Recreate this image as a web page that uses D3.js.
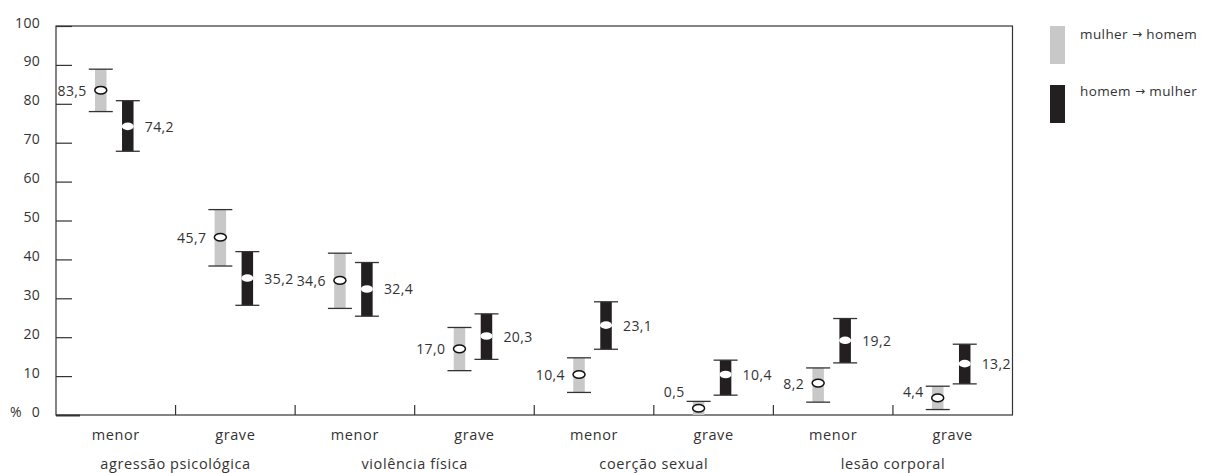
<!DOCTYPE html>
<html><head><meta charset="utf-8">
<script src="https://cdn.jsdelivr.net/npm/d3@7"></script>
<style>
html,body{margin:0;padding:0;background:#fff;}
svg{display:block;font-family:"Open Sans", "Noto Sans", sans-serif;}
</style></head>
<body>
<svg id="chart" width="1213" height="473"></svg>
<script>
const groups = ["agressão psicológica","violência física","coerção sexual","lesão corporal"];
const severities = ["menor","grave"];
const categories = ["ap-menor","ap-grave","vf-menor","vf-grave","cs-menor","cs-grave","lc-menor","lc-grave"];
const womanValues = [83.5,45.7,34.6,17.0,10.4,0.5,8.2,4.4];
const womanLow    = [78.0,38.3,27.4,11.4,5.8,0.0,3.3,1.4];
const womanHigh   = [88.9,52.8,41.6,22.5,14.7,3.5,12.1,7.4];
const manValues   = [74.2,35.2,32.4,20.3,23.1,10.4,19.2,13.2];
const manLow      = [67.8,28.2,25.4,14.3,16.9,5.1,13.4,8.0];
const manHigh     = [80.8,42.0,39.2,26.0,29.1,14.1,24.8,18.2];
const yTicks = [0,10,20,30,40,50,60,70,80,90,100];
const legendFrom = ["mulher","homem"];
const legendTo = ["homem","mulher"];

const svg = d3.select("#chart");
const m = {left:56, top:26, right:1012.5, bottom:415};
const ink = "#333";
const grayFill = "#c8c8c8", darkFill = "#231f20";

const x = d3.scaleBand().domain(categories).range([m.left, m.right]);
const y = d3.scaleLinear().domain([0,100]).range([m.bottom, m.top]);
const loc = d3.formatLocale({decimal:",", thousands:".", grouping:[3], currency:["",""]});
const fmt = loc.format(".1f");

// frame
svg.append("rect").attr("x",m.left).attr("y",m.top)
  .attr("width",m.right-m.left).attr("height",m.bottom-m.top)
  .attr("fill","none").attr("stroke",ink).attr("stroke-width",1.2);

// y axis (ticks inside)
const yAxis = d3.axisRight(y).tickValues(yTicks).tickSize(16).tickFormat("");
const yg = svg.append("g").attr("transform",`translate(${m.left},0)`).call(yAxis);
yg.select(".domain").remove();
yg.selectAll(".tick line").attr("stroke",ink)
  .attr("x2", d => d === 0 ? 24 : 16).attr("stroke-width", d => d===0 ? 2 : 1.2);
svg.append("g").selectAll("text").data(yTicks).join("text")
  .attr("x",40).attr("y",d=>y(d)-4).attr("text-anchor","end").attr("dominant-baseline","central")
  .attr("font-size",14).attr("letter-spacing",0.3).attr("fill",ink)
  .text(d => d);
svg.append("text").attr("x",10).attr("y",y(0)-4).attr("dominant-baseline","central")
  .attr("font-size",14).attr("fill",ink).text("%");

// x ticks at boundaries
const bounds = categories.slice(1).map(c => x(c));
svg.append("g").selectAll("line").data(bounds).join("line")
  .attr("x1",d=>d).attr("x2",d=>d).attr("y1",m.bottom).attr("y2",m.bottom-10)
  .attr("stroke",ink).attr("stroke-width",1.2);

// category labels
svg.append("g").selectAll("text").data(categories).join("text")
  .attr("x",d=>x(d)+x.bandwidth()/2).attr("y",434)
  .attr("text-anchor","middle").attr("dominant-baseline","central")
  .attr("font-size",14.5).attr("letter-spacing",0.6).attr("fill",ink)
  .text((d,i)=>severities[i%2]);
svg.append("g").selectAll("text").data(groups).join("text")
  .attr("x",(d,i)=>x(categories[2*i+1])).attr("y",463)
  .attr("text-anchor","middle").attr("dominant-baseline","central")
  .attr("font-size",14.5).attr("letter-spacing",0.6).attr("fill",ink)
  .text(d=>d);

const bw = 11.5, capW = 24, rx = 6, ry = 3.8;
const series = [
  {vals:womanValues, lo:womanLow, hi:womanHigh, off:-15, fill:grayFill, light:true},
  {vals:manValues, lo:manLow, hi:manHigh, off:12, fill:darkFill, light:false}
];
series.forEach(s => {
  const g = svg.append("g");
  categories.forEach((c,i) => {
    const cx = x(c) + x.bandwidth()/2 + s.off;
    const y1 = y(s.hi[i]), y0 = y(s.lo[i]);
    g.append("rect").attr("x",cx-bw/2).attr("y",y1).attr("width",bw).attr("height",y0-y1).attr("fill",s.fill);
    g.append("line").attr("x1",cx-capW/2).attr("x2",cx+capW/2).attr("y1",y1).attr("y2",y1).attr("stroke",ink).attr("stroke-width",1.3);
    if (s.lo[i] > 0)
      g.append("line").attr("x1",cx-capW/2).attr("x2",cx+capW/2).attr("y1",y0).attr("y2",y0).attr("stroke",ink).attr("stroke-width",1.3);
    const my = Math.min(y(s.vals[i]), m.bottom - ry - 3);
    g.append("ellipse").attr("cx",cx).attr("cy",my).attr("rx",rx).attr("ry",ry)
      .attr("fill","#fff").attr("stroke", s.light ? "#111" : "none").attr("stroke-width",1.5);
    if (s.light) {
      const ly = Math.min(y(s.vals[i]), y(6));
      g.append("text").attr("x",cx-14).attr("y",ly).attr("text-anchor","end").attr("dominant-baseline","central")
        .attr("font-size",14).attr("letter-spacing",0.4).attr("fill",ink).text(fmt(s.vals[i]));
    } else {
      g.append("text").attr("x",cx+17).attr("y",my).attr("text-anchor","start").attr("dominant-baseline","central")
        .attr("font-size",14).attr("letter-spacing",0.4).attr("fill",ink).text(fmt(s.vals[i]));
    }
  });
});

// legend
const lg = svg.append("g");
[grayFill, darkFill].forEach((f,i) => {
  lg.append("rect").attr("x",1050).attr("y",26+i*59).attr("width",15).attr("height",38).attr("fill",f);
  const t = lg.append("text").attr("x",1080).attr("y",33.5+i*57).attr("dominant-baseline","central")
    .attr("font-size",13.5).attr("letter-spacing",0.4).attr("fill",ink);
  t.append("tspan").text(legendFrom[i] + " ");
  t.append("tspan").attr("font-family","DejaVu Sans").attr("font-size",12).text("→");
  t.append("tspan").text(" " + legendTo[i]);
});
</script>
</body></html>
